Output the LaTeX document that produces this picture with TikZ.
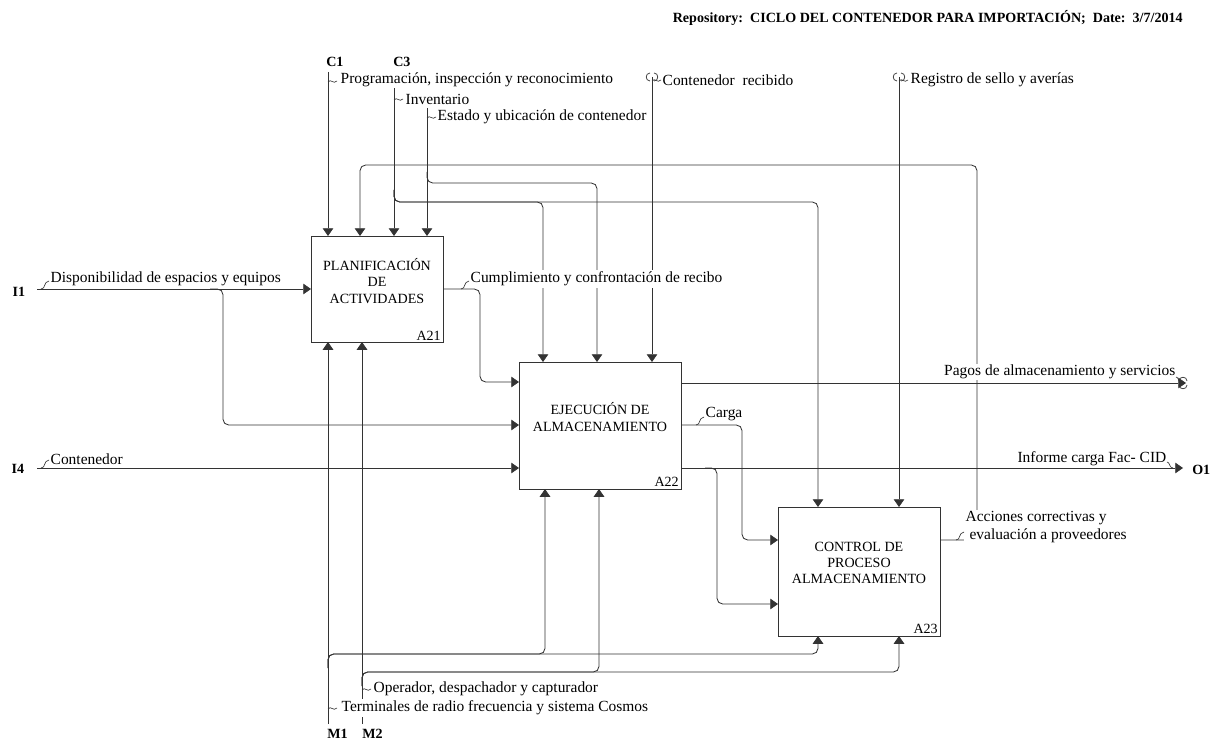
\documentclass[tikz,border=0pt]{standalone}
\usepackage{fontspec}
\setmainfont{Liberation Serif}
\usetikzlibrary{arrows.meta}
\begin{document}
\begin{tikzpicture}[x=0.025cm,y=-0.025cm,
  ln/.style={line width=0.6pt,draw=black!80},
  arr/.style={ln,rounded corners=4pt,-{Triangle[width=7.5pt,length=5.5pt]}},
  box/.style={draw=black!80,line width=0.6pt,inner sep=0pt,outer sep=0pt,anchor=north west},
  ttl/.style={font=\fontsize{10}{11.5}\selectfont,align=center,inner sep=0pt},
  num/.style={font=\fontsize{10}{11}\selectfont,inner sep=0pt,anchor=south east},
  lbl/.style={font=\fontsize{11}{12}\selectfont,inner sep=1pt,fill=white},
  tag/.style={font=\bfseries\fontsize{10}{11}\selectfont,inner sep=0pt},
  squig/.pic={\draw[line width=0.45pt,black!80] (0,0) .. controls (3,-4) and (5,3) .. (9,-1);},
  squp/.pic={\draw[line width=0.45pt,black!80] (0,0) .. controls (5,0) and (2,-7) .. (8,-8);},
  sqdn/.pic={\draw[line width=0.45pt,black!80] (0,0) .. controls (3,0) and (2,6) .. (6,6);},
  tunv/.pic={\draw[line width=0.5pt,black!80] (-2,-4) .. controls (-7,-4) and (-7,4) .. (-2,4) (2,-4) .. controls (7,-4) and (7,4) .. (2,4);},
  tunh/.pic={\draw[line width=0.5pt,black!80] (-4,-2) .. controls (-4,-7) and (4,-7) .. (4,-2) (-4,2) .. controls (-4,7) and (4,7) .. (4,2);}
]
\useasboundingbox (0,0) rectangle (1214,740);

% header
\node[font=\bfseries\fontsize{10}{12}\selectfont,anchor=east,inner sep=0pt] (hdr) at (1183,18)
  {Repository:\ \ CICLO DEL CONTENEDOR PARA IMPORTACIÓN;\ \ Date:\ \ 3/7/2014};

% boxes
\node[box,minimum width=3.3cm,minimum height=2.65cm] (A21) at (311,236) {};
\node[box,minimum width=4.05cm,minimum height=3.175cm] (A22) at (519,362) {};
\node[box,minimum width=4.05cm,minimum height=3.225cm] (A23) at (778,507) {};
\node[ttl] (A21t) at (377,281) {PLANIFICACIÓN\\DE\\ACTIVIDADES};
\node[ttl] (A22t) at (600,417) {EJECUCIÓN DE\\ALMACENAMIENTO};
\node[ttl] (A23t) at (859,563) {CONTROL DE\\PROCESO\\ALMACENAMIENTO};
\node[num] (A21n) at (441,341) {A21};
\node[num] (A22n) at (679,487) {A22};
\node[num] (A23n) at (938,634) {A23};

% end points and bends
\coordinate (c1) at (328,72);
\coordinate (c3) at (394,72);
\coordinate (c4) at (427,108);
\coordinate (c5) at (652,77);
\coordinate (c6) at (899,77);
\coordinate (i1) at (37,289);
\coordinate (i4) at (37,468);
\coordinate (m1) at (328,724);
\coordinate (m2) at (362,724);
\coordinate (o1) at (1183,468);
\coordinate (o2) at (1186,383);
\coordinate (b1) at (543,202);
\coordinate (b2) at (818,202);
\coordinate (b3) at (597,183);
\coordinate (fb) at (977,165);
\coordinate (fa) at (360,165);
\coordinate (q1) at (977,540);
\coordinate (b4) at (223,425);
\coordinate (b5) at (480,382);
\coordinate (b6) at (742,425);
\coordinate (b7) at (742,540);
\coordinate (b8) at (717,604);
\coordinate (b9) at (545,654);
\coordinate (b10) at (818,654);
\coordinate (b11) at (599,672);
\coordinate (b12) at (899,672);

% controls
\draw[arr] (c1) -- (c1 |- A21.north);
\draw[arr] (c3) -- (c3 |- A21.north);
\draw[arr] (394,190) -- (c3 |- b1) -- (b1) -- (b1 |- A22.north);
\draw[arr] (394,190) -- (c3 |- b2) -- (b2) -- (b2 |- A23.north);
\draw[arr] (c4) -- (c4 |- A21.north);
\draw[arr] (427,172) -- (c4 |- b3) -- (b3) -- (b3 |- A22.north);
\draw[arr] (c5) -- (c5 |- A22.north);
\draw[arr] (c6) -- (c6 |- A23.north);
\pic at (c5) {tunv};
\pic at (c6) {tunv};
% feedback
\draw[arr] (A23.east |- q1) -- (q1) -- (fb) -- (fa) -- (fa |- A21.north);

% inputs
\draw[arr] (i1) -- (i1 -| A21.west);
\draw[arr] (210,289) -- (b4 |- i1) -- (b4) -- (b4 -| A22.west);
\draw[arr] (i4) -- (i4 -| A22.west);
\draw[arr] (A21.east |- i1) -- (b5 |- i1) -- (b5) -- (b5 -| A22.west);

% outputs
\draw[arr] (A22.east |- o2) -- (o2);
\pic at (1183,383) {tunh};
\draw[arr] (A22.east |- b6) -- (b6) -- (b7) -- (b7 -| A23.west);
\draw[arr] (A22.east |- o1) -- (o1);
\draw[arr] (705,468) -- (b8 |- o1) -- (b8) -- (b8 -| A23.west);

% mechanisms
\draw[arr] (m1) -- (m1 |- A21.south);
\draw[arr] (m2) -- (m2 |- A21.south);
\draw[arr] (328,668) -- (m1 |- b9) -- (b9) -- (b9 |- A22.south);
\draw[arr] (328,668) -- (m1 |- b10) -- (b10) -- (b10 |- A23.south);
\draw[arr] (362,686) -- (m2 |- b11) -- (b11) -- (b11 |- A22.south);
\draw[arr] (362,686) -- (m2 |- b12) -- (b12) -- (b12 |- A23.south);

% labels
\node[tag,anchor=west] (C1) at (326,62) {C1};
\node[tag,anchor=west] (C3) at (393,62) {C3};
\node[lbl,anchor=west] (L1) at (339,80) {Programación, inspección y reconocimiento};
\pic at (328,82) {squig};
\node[lbl,anchor=west] (L2) at (404,99) {Inventario};
\pic at (394,100) {squig};
\node[lbl,anchor=west] (L3) at (436,117) {Estado y ubicación de contenedor};
\pic at (427,118) {squig};
\node[lbl,anchor=west] (L4) at (661,80) {Contenedor\ \ recibido};
\pic at (652,81) {squig};
\node[lbl,anchor=west] (L5) at (909,80) {Registro de sello y averías};
\pic at (899,81) {squig};

\node[tag] (I1) at (19,292) {I1};
\node[lbl,anchor=west] (L6) at (49,279) {Disponibilidad de espacios y equipos};
\pic at (41,289) {squp};
\node[tag] (I4) at (18,469) {I4};
\node[lbl,anchor=west] (L7) at (49,459) {Contenedor};
\pic at (41,468) {squp};
\node[lbl,anchor=west] (L8) at (469,279) {Cumplimiento y confrontación de recibo};
\pic at (461,289) {squp};
\node[lbl,anchor=west] (L9) at (704,414) {Carga};
\pic at (696,425) {squp};
\node[lbl,anchor=east] (L10) at (1177,372) {Pagos de almacenamiento y servicios};
\pic at (1176,377) {sqdn};
\node[lbl,anchor=east] (L11) at (1168,459) {Informe carga Fac- CID};
\pic at (1167,462) {sqdn};
\node[tag,anchor=west] (O1) at (1192,470) {O1};
\node[lbl,anchor=west,align=left,font=\fontsize{11}{12.5}\selectfont] (L12) at (964,527)
  {Acciones correctivas y\\\ evaluación a proveedores};
\pic at (956,540) {squp};

\node[tag,anchor=west] (M1) at (327,734) {M1};
\node[tag,anchor=west] (M2) at (362,734) {M2};
\node[lbl,anchor=west] (L13) at (372,689) {Operador, despachador y capturador};
\pic at (362,690) {squig};
\node[lbl,anchor=west] (L14) at (340,708) {Terminales de radio frecuencia y sistema Cosmos};
\pic at (328,709) {squig};
\end{tikzpicture}
\end{document}
